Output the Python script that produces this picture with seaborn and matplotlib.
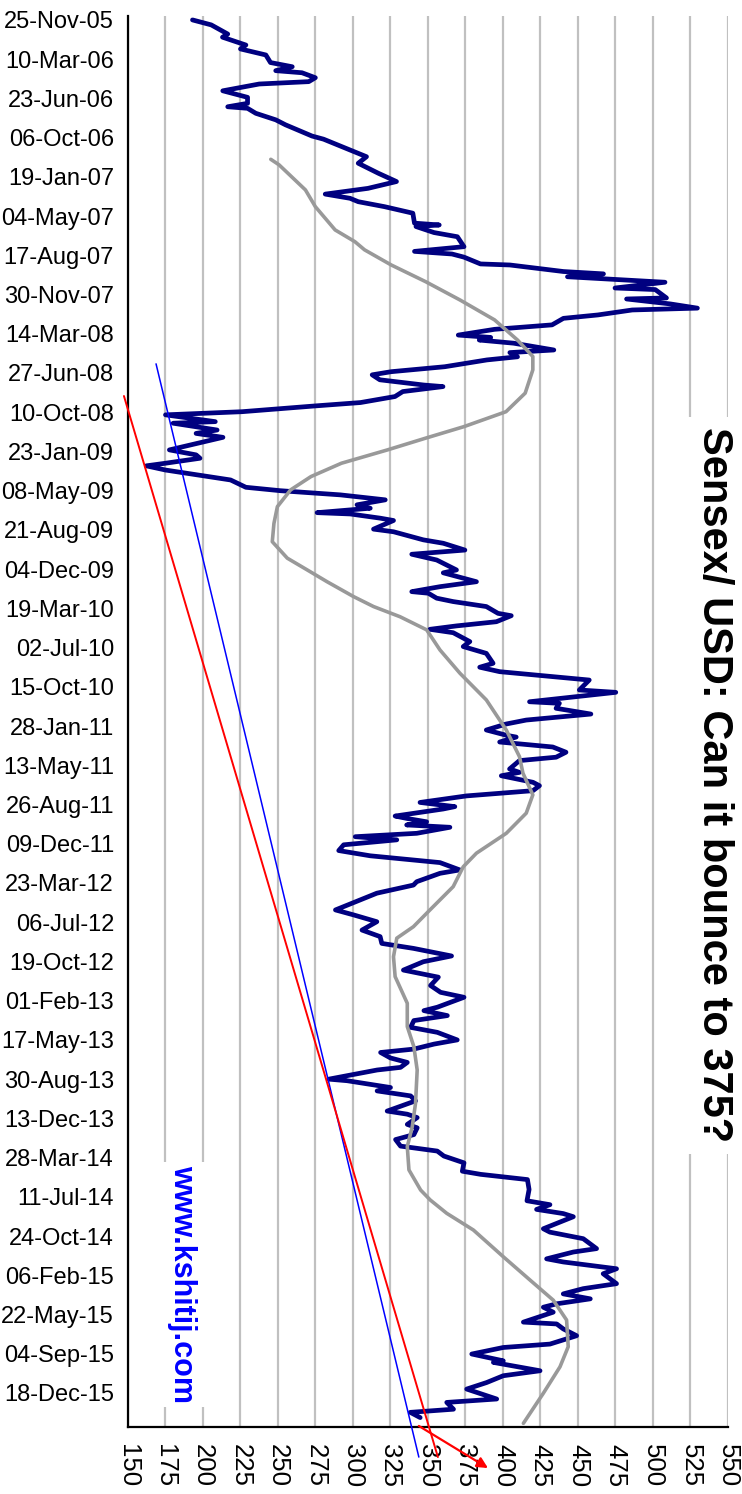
import numpy as np
import pandas as pd
import seaborn as sns
import matplotlib.pyplot as plt
from matplotlib.patches import Rectangle

# weekly series, x-axis counted in weeks after 25-Nov-05
start_date = pd.Timestamp('2005-11-25')

sensex_weeks = [0.0, 1.9, 5.4, 6.6, 9.6, 11.1, 13.4, 16.3, 17.9, 19.4, 20.2, 22.1, 23.6, 24.5,
                27.1, 29.6, 31.9, 33.2, 33.8, 35.7, 38.2, 40.1, 43.3, 44.4, 45.6, 49.7, 52.3,
                54.8, 58.6, 61.8, 64.4, 66.6, 68.2, 69.5, 71.4, 73.9, 77.7, 78.4, 79.0, 81.3,
                82.9, 86.7, 88.5, 89.5, 90.7, 93.3, 93.7, 96.2, 97.1, 98.2, 100.3, 102.5, 103.1,
                106.3, 106.7, 108.6, 110.2, 110.9, 112.8, 114.1, 116.6, 118.3, 120.5, 121.4,
                122.4, 123.6, 126.2, 127.2, 128.8, 130.0, 132.6, 134.5, 135.7, 137.6, 139.6,
                140.2, 142.1, 144.0, 146.3, 147.6, 149.8, 151.0, 153.6, 154.2, 156.8, 158.1,
                159.6, 164.4, 166.3, 167.6, 169.5, 170.5, 172.1, 175.9, 178.7, 180.0, 181.6,
                183.5, 185.4, 186.7, 188.4, 188.9, 190.5, 191.4, 194.7, 195.7, 198.8, 200.1,
                202.7, 204.3, 206.5, 210.3, 211.4, 214.8, 216.7, 218.6, 219.2, 221.1, 222.4,
                224.3, 226.9, 227.8, 230.1, 231.7, 233.0, 234.3, 237.7, 239.6, 242.2, 246.0,
                247.5, 249.2, 252.4, 256.2, 257.1, 260.7, 261.3, 263.2, 265.4, 267.7, 269.2,
                271.5, 273.5, 274.2, 276.1, 278.0, 280.0, 281.9, 283.2, 286.4, 287.7, 289.0,
                291.5, 292.8, 294.7, 296.7, 299.2, 300.8, 301.7, 304.4, 305.3, 306.6, 307.8,
                308.7, 311.0, 312.3, 313.5, 315.4, 317.6, 319.6, 322.2, 325.0, 326.3, 329.5,
                330.8, 333.9, 340.3, 342.2, 344.8, 348.0, 350.5, 353.1, 355.0, 357.9, 360.1,
                363.3, 366.0, 369.2, 371.8, 373.7, 377.5, 378.8, 380.7, 382.6, 385.2, 387.1,
                390.0, 391.6, 393.5, 394.8, 396.9, 398.6, 400.5, 401.5, 405.0, 405.6, 408.2,
                409.5, 411.4, 413.3, 417.2, 418.4, 419.7, 422.3, 423.6, 426.2, 428.1, 430.6,
                432.5, 434.4, 437.0, 440.2, 441.4, 443.4, 447.2, 451.5, 453.0, 454.8, 456.4,
                457.6, 462.2, 463.5, 466.0, 469.8, 471.1, 473.7, 474.9, 477.5, 479.4, 483.2,
                485.1, 487.1, 489.0, 490.9, 492.2, 494.1, 497.9, 498.6, 500.5, 503.1, 506.3,
                507.6, 510.1, 512.7, 513.3, 516.5, 518.4, 521.0, 523.5, 527.3, 528.6, 531.2,
                532.4, 534.4]
sensex_usd = [193, 205.5, 216.5, 213, 228.6, 225, 241.9, 245, 259.5, 248.5, 266, 274.9, 270.5, 237.5,
              213.2, 229.7, 229.7, 216.5, 229.7, 235.2, 248.5, 255, 268.3, 272.7, 280.4, 298, 309,
              303.5, 316.8, 329, 310, 281.5, 298, 303.5, 321, 339.9, 341, 357.5, 342, 354,
              369.6, 374, 341, 366, 374, 385, 404.6, 440.3, 467, 443, 508, 474.7, 501.5,
              509, 482.4, 511.7, 529.6, 486.2, 463.3, 440.3, 432.7, 394.4, 370.2, 391.8,
              384.2, 407.1, 433.9, 404.6, 409.7, 389.3, 361.2, 325.5, 312.8, 317.9, 347.2,
              360, 333.2, 328, 305, 274.5, 226, 175, 208.2, 180.1, 209.4, 195.4,
              213.3, 177.6, 195.4, 198, 175, 162.2, 175, 218.4, 228.6, 251.5, 291.6,
              321.5, 302.7, 311.5, 276.1, 298.2, 318.1, 327, 313.7, 327, 346.9, 360.2,
              374.6, 339.2, 355.8, 369, 360.2, 382.3, 358, 339.2, 350.2, 355.8, 366.8,
              388.9, 396.7, 405.5, 395.6, 369, 351.3, 366.8, 377.9, 373.5, 388.9, 393.4,
              384.5, 397.8, 457.5, 450.9, 475.2, 417.7, 437.6, 435.4, 458.6, 415.5, 402.2,
              388.9, 402.2, 408.8, 397.8, 433.2, 442, 435.4, 411, 404.4, 411, 398.9,
              420, 424.3, 420, 375.7, 344.7, 367.9, 360.2, 328.1, 335.8, 349.1, 335.8,
              364.6, 342.5, 301.5, 329.2, 293.8, 290.5, 311.5, 358, 371.2, 358, 342.5,
              340.3, 315.9, 288.3, 300.4, 315.9, 306, 318.1, 319.2, 340.3, 365.7, 346.9,
              333.6, 356.9, 351.7, 358.4, 374, 356.2, 347.3, 362.9, 340.6, 338.4, 356.2,
              369.5, 354, 340.6, 318.4, 325, 336.2, 331.7, 316.1, 283.9, 296.1, 325,
              316.1, 338.4, 341.7, 322.8, 336.2, 342.8, 336.2, 342.8, 340.6, 328.4, 331.7,
              356.2, 360.6, 374, 372.9, 385.1, 416.3, 417.4, 416, 431.3, 422.4, 440.2,
              446.9, 426.9, 431.3, 453.5, 462.4, 446.9, 429.1, 440.2, 475.7, 466.8, 475.7,
              453.5, 440.2, 458.2, 435.8, 426.9, 433.5, 413.6, 435.8, 440.2, 449.1, 431.3,
              400.2, 379.2, 400.2, 393.6, 424.7, 400.2, 389.1, 375.8, 395.8, 362.5, 367,
              338.2, 344.8]

# grey moving average
avg_weeks = [53.3, 55.4, 65.0, 71.4, 80.3, 84.8, 87.9, 93.7, 100.1, 107.1, 114.7, 122.4, 128.7,
             133.8, 142.7, 149.8, 155.5, 159.9, 164.4, 169.5, 174.6, 179.7, 186.1, 192.5,
             199.5, 205.8, 210.3, 214.8, 220.5, 224.3, 228.2, 233.2, 240.9, 249.8, 260.0,
             271.5, 281.7, 288.0, 296.3, 303.3, 311.0, 318.6, 323.8, 331.4, 340.3, 346.7,
             351.1, 358.2, 365.8, 376.0, 384.9, 392.6, 401.5, 414.2, 423.2, 430.8, 439.7,
             447.4, 451.2, 456.3, 462.7, 472.9, 481.8, 489.5, 497.1, 507.3, 515.0, 525.1,
             536.6]
avg_usd = [245.2, 250.7, 268.3, 274.9, 288.1, 301.3, 307.7, 325.5, 348.5, 371.4, 394.4, 409.7, 419.9,
           419.9, 414.8, 402, 374, 348.5, 323, 292.3, 272, 258.4, 249.6, 247.3,
           246.2, 256.2, 269.5, 282.7, 300.4, 313.7, 331.4, 349.1, 358, 371.3, 388.9,
           402.2, 411, 413.3, 419.9, 415.5, 402.2, 382.3, 373.5, 366.8, 351.3, 340.3,
           329.2, 327, 328.1, 336.2, 336.2, 340.6, 342.8, 341.7, 339.5, 336.2, 337.3,
           345.1, 351.5, 362.5, 380.3, 400.2, 418, 433.5, 442.4, 443.5, 438, 426.9,
           413.6]

# hand drawn trend lines and projection arrow
blue_line_usd = [168.7, 343.9]
blue_line_weeks = [131.5, 549.5]
red_line_usd = [147.3, 356.6]
red_line_weeks = [143.8, 549.5]
arrow_usd = [343.9, 390.0]
arrow_weeks = [537.6, 553.7]

date_labels = ['25-Nov-05', '10-Mar-06', '23-Jun-06', '06-Oct-06', '19-Jan-07', '04-May-07',
               '17-Aug-07', '30-Nov-07', '14-Mar-08', '27-Jun-08', '10-Oct-08', '23-Jan-09',
               '08-May-09', '21-Aug-09', '04-Dec-09', '19-Mar-10', '02-Jul-10', '15-Oct-10',
               '28-Jan-11', '13-May-11', '26-Aug-11', '09-Dec-11', '23-Mar-12', '06-Jul-12',
               '19-Oct-12', '01-Feb-13', '17-May-13', '30-Aug-13', '13-Dec-13', '28-Mar-14',
               '11-Jul-14', '24-Oct-14', '06-Feb-15', '22-May-15', '04-Sep-15', '18-Dec-15']
value_ticks = list(range(150, 551, 25))

sns.set_theme(style='white')
plt.rcParams['font.family'] = ['Liberation Sans', 'DejaVu Sans']

fig = plt.figure(figsize=(7.42, 14.94), dpi=100)
ax = fig.add_axes([0.1725, 0.04485, 0.8086, 0.94444])

sns.lineplot(x=sensex_usd, y=sensex_weeks, orient='y', sort=False, estimator=None,
             color='#000080', lw=3.4, ax=ax, zorder=3)
sns.lineplot(x=avg_usd, y=avg_weeks, orient='y', sort=False, estimator=None,
             color='#999999', lw=2.6, ax=ax, zorder=4)

ax.plot(blue_line_usd, blue_line_weeks, color='#0000ff', lw=1.1, clip_on=False, zorder=5)
ax.plot(red_line_usd, red_line_weeks, color='#ff0000', lw=1.4, clip_on=False, zorder=5)
ax.annotate('', xy=(arrow_usd[1], arrow_weeks[1]), xytext=(arrow_usd[0], arrow_weeks[0]),
            annotation_clip=False,
            arrowprops=dict(arrowstyle='-|>', color='#ff0000', lw=1.6, mutation_scale=16,
                            shrinkA=0, shrinkB=0))

ax.set_xlim(150, 550)
ax.set_ylim(538.0, -1.5)
ax.set_xticks(value_ticks)
ax.set_xticklabels([str(v) for v in value_ticks], rotation=-90)
tick_weeks = [(pd.Timestamp(pd.to_datetime(d, format='%d-%b-%y')) - start_date).days / 7
              for d in date_labels]
ax.set_yticks(tick_weeks)
ax.set_yticklabels(date_labels)

ax.xaxis.grid(True, color='#c0c0c0', lw=1.6)
ax.yaxis.grid(False)
ax.set_axisbelow(True)
ax.set_xlabel('')
ax.set_ylabel('')
for side in ['top', 'right']:
    ax.spines[side].set_visible(False)
for side in ['left', 'bottom']:
    ax.spines[side].set_color('black')
    ax.spines[side].set_linewidth(1.6)
ax.tick_params(axis='both', direction='out', length=5, width=1.5, color='black',
               labelcolor='black')
ax.tick_params(axis='y', pad=5, labelsize=17)
ax.tick_params(axis='x', pad=7, labelsize=18.5)

# white text boxes over the gridlines
fig.add_artist(Rectangle((0.9218, 0.2276), 0.0782, 0.4933, transform=fig.transFigure,
                         facecolor='white', edgecolor='none', zorder=1))
fig.add_artist(Rectangle((0.2129, 0.0582), 0.0701, 0.164, transform=fig.transFigure,
                         facecolor='white', edgecolor='none', zorder=1))

fig.text(0.962, 0.4746, 'Sensex/ USD: Can it bounce to 375?', rotation=-90,
         ha='center', va='center', fontsize=30, fontweight='bold', color='black', zorder=2)
fig.text(0.246, 0.1406, 'www.kshitij.com', rotation=-90, ha='center', va='center',
         fontsize=22, fontweight='bold', color='#0000ff', zorder=2)

fig.savefig('out.png', dpi=100)
